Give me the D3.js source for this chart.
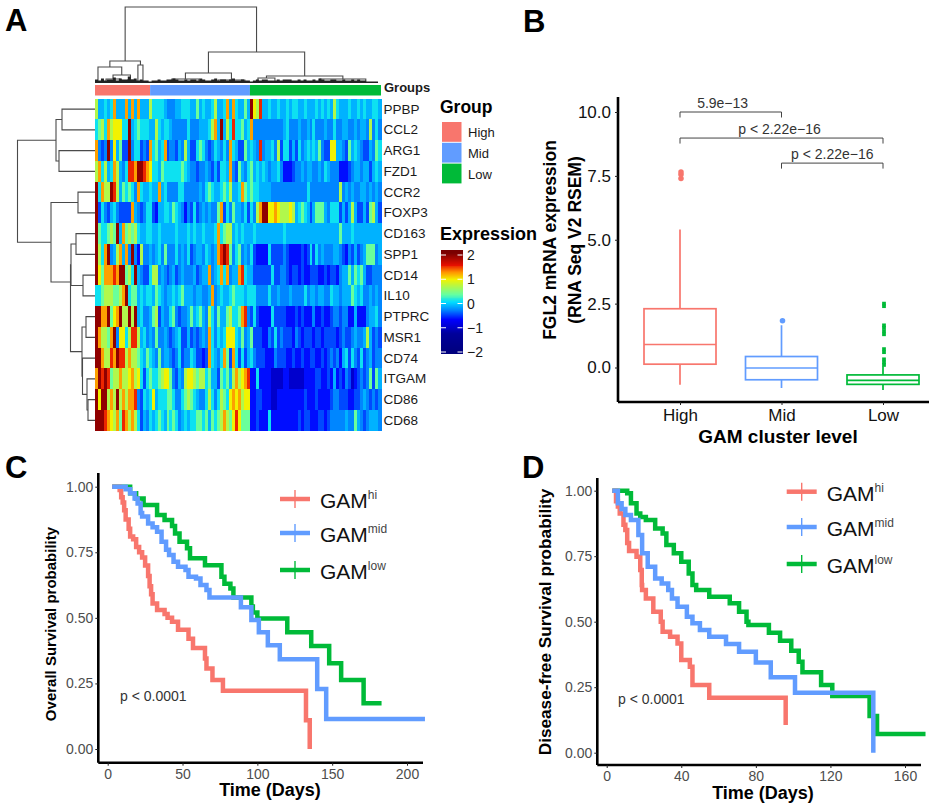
<!DOCTYPE html>
<html><head><meta charset="utf-8">
<style>
html,body{margin:0;padding:0;background:#fff}
svg{display:block;font-family:"Liberation Sans",Arial,sans-serif}
</style>
<script src="https://cdn.jsdelivr.net/npm/d3@7"></script>
</head><body>
<svg id="c" width="950" height="806"></svg>
<script>
// ---------- DATA ----------
const genes = ["PPBP","CCL2","ARG1","FZD1","CCR2","FOXP3","CD163","SPP1","CD14","IL10","PTPRC","MSR1","CD74","ITGAM","CD86","CD68"];
const groupNames = ["High","Mid","Low"];
const groupColumns = [18.5,33.5,44];
const levelCodes = "abcdefghijkl".split("");
const levelValues = [-0.95,-0.62,-0.44,-0.26,-0.1,0.1,0.42,0.72,1.0,1.25,1.55,2.0];
const heatCodes = [
"heefefje eejejeje eehffffe dddeefff eegefeef heefjejf eegelihk eefeefee feffeefe eefefefe hfeeefee fefeeffe",
"fghfjhii ifflefgf ffeehfef fedddddf dddeeefh jelehfkf fgefjddd ddddddde fdddedde dfdddedd fddeedde deedhdfd",
"jdcdldie gccldffc dcjfgefj cddcedhe ccfgfdcd fedfdjfe ccgefedk deefdhcf fcecfdef efegdcci ieedcgef edccedgf",
"hjfhefjh edfkkjll kjiffegf fffffgfe ddcddedc ecffejdc gedfgefe fedeefdb bbcddede eddedfed ddbbbcde edeecefe",
"lfjhhlkh egfgfdjf eefeejef ddddffdd dddedfgf eefgfhee fjgfgffe eeeddddd dddddddf dddddddd ddhdeded deededed",
"lcfdcefd ccccjedc dffcbeef fegfedbd cfcdeded dgjcfdge edfcfdhj lliijihh hihefgfe cegggedf ffcecehe ccecghec",
"lgffghgl ejghghfe effeefee eeefeeef efeefeee fjfghhef efeeefee eeeeeeef eeeeeeee eeeeeeee eegeeefe eeeeeeee",
"lhfjldeh jejdldbh ddedefdg dddfdedf cdeedfed ejklkgdf gdedfcbb bbfccccd cbbbbcbc fcfdeddd eedcbdce cdegggde",
"ligjjjkj llghfled ccfhhded cdecdedd decdeejd efjfjdee jkfeeccc cccfccdd cbccbcbb cccbbcbc cbdeegeg fgeccddd",
"ffghhhgg hjlfggef effegfed eefefgee edeeddej defeefgf ffefffdd ddfddedd deddddfd eedeeddf eedeeegf efddeded",
"lljjlgij lhhlhlef ddeghced dfgdcdde gefgedhf dgeeghff gjkdcfcb bbbfcccc bbbcbcbb bdbbcbbc ddcddbbe bbbdeefd",
"ljhhgjld iifhkkhe fdedgdde dcdefcce cdcdedjf dfefiiif egdegccc bbdcfcdc ccbdcbcc cbccbccc cbcdccde ddehecdc",
"lljhhkjl kkhjhhgf egfedgde edcdfcdd feccbcjf edfjgcjf cfcefdcc cbbbdccc bbcbbcbb ccbbcbcd cdbefcfd cfcdecdd",
"jlklkghh jhhijhif cfgffghi igdcedhi ihghhfge ecgfgehj hijkbbfb bbbaaaab baaaaabb bbccbbcb ebcbdcab cdcdgcge",
"lillhjhl hjhjjkdc fefiefff ggfddfgh gfeddfhf dfhgfiji jhiibbcc bbbaabbb bbbbbbcb bbcbbbbc ddcccbbc cdedcdcd",
"lllkjihj gkjhjhfc edfefgfe gfgfdefe ffggfgeg fghjhgik igggbbcb bbfbbbbb bbbbcbcc bbbccbcd ddddeddg edcdeeed"
];
// row dendrogram: [height, childA, childB, optional position override]
const rowTree = [77.5,
  [39,[33,"PPBP","CCL2"],[36,"ARG1","FZD1"]],
  [44,[17,"CCR2","FOXP3"],
    [24.5,[24,[19,"CD163","SPP1"],[12,"CD14","IL10"]],
      [13,[9,"PTPRC","MSR1"],[12.5,"CD74",[8,"ITGAM",[7,"CD86","CD68"]]]],282]]];
// column dendrogram: leaves are column positions
const colTree = [75,
  [21,[15,1,[7,[3,3.7,8.4],[2,11,12.8]]],[17,14.4,16.1]],
  [30,[9,[3,25.8,34.9],[2,41.3,50.3]],[6,[4,54.7,60.4],[3,75.5,90.9]]]];
const colFuzz = [2,1,3,1,2,2,4,1,3,2,2,5,2,3,1,2,1,1,0,1,1,2,1,1,2,2,3,2,1,1,2,1,2,2,1,3,2,1,1,2,3,1,2,2,1,2,3,1,1,2,1,1,0,1,2,1,2,2,1,1,1,2,1,2,2,2,1,1,2,1,2,1,1,2,1,3,2,1,1,2,2,1,1,2,1,1,2,1,2,1,1,0,0,0,0,0];

const boxGroups = ["High","Mid","Low"];
const boxLow = [-0.68,-0.8,-0.88];
const boxQ1 = [0.13,-0.48,-0.66];
const boxMedian = [0.9,-0.02,-0.5];
const boxQ3 = [2.3,0.43,-0.29];
const boxHigh = [5.4,1.65,0.05];
const boxOutliers = [[7.4,7.55,7.65],[1.83],[2.5,2.4,1.65,1.55,1.42,1.3,0.72,0.6,0.32,0.2,0.1]];
const brackets = [["High","Mid",10.0,"5.9e\u221213",0.42],["High","Low",9.0,"p < 2.22e\u221216",0.49],["Mid","Low",8.0,"p < 2.22e\u221216",0.5]];

const osHi = [[3,1],[8,.987],[9,.96],[10,.94],[11,.91],[12,.875],[14,.84],[15,.81],[17,.8],[19,.77],[21,.75],[23,.73],[25,.70],[27,.66],[28,.62],[29,.59],[30,.555],[33,.53],[38,.515],[40,.5],[43,.485],[47,.455],[54,.42],[57,.385],[65,.345],[66,.307],[70,.263],[77,.222],[132.5,.11],[135,0],[135,0]];
const osMid = [[3,1],[12,.99],[15,.975],[18,.955],[20,.936],[22,.9],[23,.886],[27,.86],[30,.845],[33,.828],[36,.79],[39,.76],[41,.74],[44,.714],[47,.695],[52,.682],[54,.657],[59,.65],[62,.625],[66,.606],[68,.578],[89,.54],[96,.492],[101,.445],[107,.396],[115,.342],[140,.229],[146,.114],[212,.114]];
const osLow = [[3,1],[15,.975],[19,.955],[24,.93],[33,.892],[38,.873],[43,.85],[45,.822],[48,.79],[53,.765],[55,.727],[65,.701],[76,.657],[78,.63],[82,.612],[84,.578],[96,.543],[97,.52],[100,.498],[120,.445],[136,.393],[148,.327],[156,.263],[171,.174],[183,.174]];
const dfsHi = [[3,1],[5,.96],[6,.94],[7,.913],[9,.87],[10,.85],[11,.8],[12,.77],[16,.748],[18,.697],[18.8,.64],[19,.621],[21,.589],[25,.538],[29,.5],[30,.462],[34,.443],[38,.417],[40,.354],[44.6,.328],[46,.258],[55,.21],[96,.106],[96,.106]];
const dfsMid = [[3,1],[6,.952],[8,.93],[10,.907],[13,.888],[17,.831],[19,.761],[22,.71],[26,.665],[29.5,.646],[33,.621],[35,.589],[38,.557],[43,.519],[46,.494],[50,.468],[55,.443],[64,.415],[71,.385],[80,.344],[88,.288],[101,.229],[143,0],[143,0]];
const dfsLow = [[3,1],[11,.99],[13,.952],[16,.913],[18,.9],[21,.888],[26,.856],[30,.837],[32,.793],[36,.761],[40,.729],[44,.684],[46,.64],[48,.621],[55,.595],[66,.57],[71,.538],[75,.5],[76,.487],[87,.458],[93,.427],[99,.389],[103,.347],[105,.307],[115,.258],[121,.216],[141,.14],[145,.071],[171,.071]];
const survTicks = [0,0.25,0.5,0.75,1];
const osDayTicks = [0,50,100,150,200];
const dfsDayTicks = [0,40,80,120,160];
const kmLabels = [["GAM","hi"],["GAM","mid"],["GAM","low"]];

const colorHigh = "#F8766D", colorMid = "#619CFF", colorLow = "#00BA38";
const groupColors = [colorHigh,colorMid,colorLow];

// ---------- SETUP ----------
const svg = d3.select("#c");
const blur = svg.append("defs").append("filter").attr("id","soft")
  .attr("x","0").attr("y","0").attr("width","1").attr("height","1");
blur.append("feGaussianBlur").attr("stdDeviation","0.75 0.35");
function label(x,y,t,size,o={}){
  return svg.append("text").attr("x",x).attr("y",y).text(t).attr("font-size",size)
    .attr("font-weight",o.bold?"bold":null).attr("fill",o.fill||"#000")
    .attr("text-anchor",o.anchor||"start")
    .attr("transform",o.rot?`rotate(${o.rot} ${x} ${y})`:null);
}
label(5,31,"A",31,{bold:1});label(523,32,"B",31,{bold:1});
label(5,478,"C",31,{bold:1});label(522,478,"D",31,{bold:1});

// ---------- A: heatmap ----------
const nCols = 96;
const hx = d3.scaleBand().domain(d3.range(nCols)).range([95,381]);
const hy = d3.scaleBand().domain(genes).range([98.7,430.7]);
const levelOf = d3.scaleOrdinal(levelCodes,levelValues);
const heatColor = d3.scaleLinear()
  .domain([-2.1,-1.25,-0.65,-0.28,0.05,0.4,1.0,1.3,1.6,2.1])
  .range(["#00007a","#00009a","#0000ff","#0080ff","#00dcff","#66ffa0","#f2f200","#ff9000","#e81000","#7a0000"])
  .clamp(true);
const cells = [];
heatCodes.forEach((s,r)=>{ s.replace(/ /g,"").split("").forEach((c,i)=>cells.push({g:genes[r],i,v:levelOf(c)})); });
svg.append("g").attr("filter","url(#soft)").append("g").attr("shape-rendering","crispEdges").selectAll("rect").data(cells).join("rect")
  .attr("x",d=>hx(d.i)).attr("y",d=>hy(d.g)).attr("width",hx.bandwidth()+0.5).attr("height",hy.bandwidth()+0.5)
  .attr("fill",d=>heatColor(d.v));

// group strip
let acc=0;
const colX = d3.scaleLinear().domain([0,nCols]).range([95,381]);
groupNames.forEach((g,i)=>{
  svg.append("rect").attr("x",colX(acc)).attr("y",85).attr("width",colX(groupColumns[i])-95).attr("height",10.5).attr("fill",groupColors[i]);
  acc+=groupColumns[i];
});
label(384,92,"Groups",13,{bold:1,fill:"#1a1a1a"});
svg.append("g").selectAll("text").data(genes).join("text")
  .attr("x",383.5).attr("y",d=>hy(d)+hy.bandwidth()/2+4.5).attr("font-size",13.5).attr("fill","#1a1a1a").text(d=>d);

// dendrograms
const rowH = d3.scaleLinear().domain([0,77.5]).range([95,17.5]);
const colH = d3.scaleLinear().domain([0,75]).range([82,7]);
function drawTree(node,pos,hgt,horizontal,g){
  if(!Array.isArray(node)) return [pos(node),hgt(0)];
  const a=drawTree(node[1],pos,hgt,horizontal,g), b=drawTree(node[2],pos,hgt,horizontal,g);
  const h=hgt(node[0]);
  const p=horizontal?`M${a[1]},${a[0]}H${h}V${b[0]}H${b[1]}`:`M${a[0]},${a[1]}V${h}H${b[0]}V${b[1]}`;
  g.append("path").attr("d",p).attr("fill","none").attr("stroke","#4a4a4a").attr("stroke-width",1.1);
  return [node[3]!==undefined?node[3]:(a[0]+b[0])/2,h];
}
const rowPos = d=>hy(d)+hy.bandwidth()/2;
drawTree(rowTree,rowPos,rowH,true,svg.append("g"));
const gCol=svg.append("g");
drawTree(colTree,d=>colX(d),colH,false,gCol);
svg.append("path").attr("fill","#222")
  .attr("d",d3.area().x(d=>colX(d[0])).y0(83).y1(d=>colH(d[1])-0.5).curve(d3.curveStepAfter)(colFuzz.map((v,i)=>[i,v])));

// legends
label(440,113,"Group",17.5,{bold:1});
svg.append("g").selectAll("rect").data(groupNames).join("rect")
  .attr("x",442).attr("y",(d,i)=>122+i*20.8).attr("width",19.5).attr("height",19.8).attr("fill",(d,i)=>groupColors[i]);
svg.append("g").selectAll("text").data(groupNames).join("text")
  .attr("x",468).attr("y",(d,i)=>136.5+i*21).attr("font-size",13).attr("fill","#1a1a1a").text(d=>d);
label(440,240,"Expression",18,{bold:1});
const cbY = d3.scaleLinear().domain([-2,2]).range([352,255]);
const cbValues = d3.range(-2.04,2.17,0.04);
svg.append("g").attr("shape-rendering","crispEdges").selectAll("rect").data(cbValues).join("rect")
  .attr("x",441).attr("y",d=>cbY(d)-1).attr("width",21.5).attr("height",1.8).attr("fill",d=>heatColor(d));
[2,1,0,-1,-2].forEach(t=>{
  svg.append("path").attr("d",`M441,${cbY(t)}h5M462.5,${cbY(t)}h-5`).attr("stroke","#fff").attr("stroke-width",1);
  label(467,cbY(t)+5,t<0?"\u2212"+(-t):String(t),14,{fill:"#1a1a1a"});
});

// ---------- B: boxplot ----------
const bx = d3.scalePoint().domain(boxGroups).range([680,883]);
const by = d3.scaleLinear().domain([0,10]).range([367.5,112]);
const bYAxis = svg.append("g").attr("transform","translate(618,0)").call(d3.axisLeft(by).tickValues([0,2.5,5,7.5,10]).tickFormat(d3.format(".1f")).tickSize(3).tickPadding(4));
const bXAxis = svg.append("g").attr("transform","translate(0,402)").call(d3.axisBottom(bx).tickSize(3).tickPadding(4));
function styleAxis(ax,size,col){
  ax.selectAll("text").attr("font-size",size).attr("fill",col).attr("font-family","inherit");
  ax.selectAll(".tick line").attr("stroke","#222").attr("stroke-width",1);
  ax.select(".domain").attr("stroke","#000").attr("stroke-width",2.6);
}
styleAxis(bYAxis,17,"#111");styleAxis(bXAxis,17,"#111");
bYAxis.select(".domain").attr("d","M0,97V402");
bXAxis.select(".domain").attr("d","M618,0H929");
boxGroups.forEach((g,i)=>{
  const gg=svg.append("g").attr("fill","none").attr("stroke",groupColors[i]).attr("stroke-width",1.7);
  const c=bx(g), w=36;
  gg.append("path").attr("d",`M${c},${by(boxLow[i])}V${by(boxQ1[i])}M${c},${by(boxQ3[i])}V${by(boxHigh[i])}`);
  gg.append("rect").attr("x",c-w).attr("width",2*w).attr("y",by(boxQ3[i])).attr("height",by(boxQ1[i])-by(boxQ3[i]));
  gg.append("path").attr("d",`M${c-w},${by(boxMedian[i])}H${c+w}`);
  const sym=d3.symbol().type(i==2?d3.symbolSquare:d3.symbolCircle).size(i==2?14:24);
  svg.append("g").selectAll("path").data(boxOutliers[i]).join("path")
    .attr("d",sym).attr("transform",d=>`translate(${c+1},${by(d)})`).attr("fill",groupColors[i]);
});
brackets.forEach(([a,b,v,t,f])=>{
  const x1=bx(a),x2=bx(b),y=by(v)+ (v===10?0:(v===9?0.5:0));
  svg.append("path").attr("d",`M${x1},${y+5.5}V${y}H${x2}V${y+5.5}`).attr("fill","none").attr("stroke","#444").attr("stroke-width",1);
  label(x1+(x2-x1)*f,y-4,t,14,{anchor:"middle",fill:"#333"});
});
label(778,443,"GAM cluster level",19,{bold:1,anchor:"middle"});
label(556,240,"FGL2 mRNA expression",17.5,{bold:1,anchor:"middle",rot:-90});
label(581,240,"(RNA Seq V2 RSEM)",17.5,{bold:1,anchor:"middle",rot:-90});

// ---------- C / D: survival ----------
function kmPanel(cfg){
  const x=d3.scaleLinear().domain(cfg.xDom).range(cfg.xRange);
  const y=d3.scaleLinear().domain([0,1]).range(cfg.yRange);
  const xa=svg.append("g").attr("transform",`translate(0,${cfg.axisY})`).call(d3.axisBottom(x).tickValues(cfg.xTicks).tickSize(3).tickPadding(3));
  const ya=svg.append("g").attr("transform",`translate(${cfg.axisX},0)`).call(d3.axisLeft(y).tickValues(survTicks).tickFormat(d3.format(".2f")).tickSize(3).tickPadding(2));
  styleAxis(xa,14,"#4d4d4d");styleAxis(ya,14,"#4d4d4d");
  xa.select(".domain").attr("d",`M${cfg.axisX},0H${cfg.axisEnd}`);
  ya.select(".domain").attr("d",`M0,${cfg.axisTop}V${cfg.axisY}`);
  const line=d3.line().x(d=>x(d[0])).y(d=>y(d[1])).curve(d3.curveStepAfter);
  [[cfg.low,colorLow],[cfg.hi,colorHigh],[cfg.mid,colorMid]].forEach(([d,c])=>{
    svg.append("path").datum(d).attr("d",line).attr("fill","none").attr("stroke",c).attr("stroke-width",4.5);
  });
  kmLabels.forEach((l,i)=>{
    const ly=cfg.legY[i], c=groupColors[i], lx=cfg.legX;
    svg.append("path").attr("d",`M${lx},${ly}h30`).attr("stroke",c).attr("stroke-width",4.5).attr("fill","none");
    svg.append("path").attr("d",`M${lx+15},${ly-9}v18`).attr("stroke",c).attr("stroke-width",1.4);
    const t=label(lx+40,ly+9,l[0],21,{fill:"#111"});
    t.append("tspan").text(l[1]).attr("font-size",12).attr("dy",-9).attr("fill","#444");
  });
  label(cfg.pX,cfg.pY,"p < 0.0001",14,{fill:"#333"});
  label(cfg.titleX,cfg.titleY,"Time (Days)",18,{bold:1,anchor:"middle"});
  label(cfg.yTitleX,cfg.yTitleY,cfg.yTitle,cfg.yTitleSize,{bold:1,anchor:"middle",rot:-90});
}
kmPanel({hi:osHi,mid:osMid,low:osLow,xDom:[0,200],xRange:[107.7,407],yRange:[749,486.7],
  axisX:98.3,axisY:762.7,axisEnd:423,axisTop:473,xTicks:osDayTicks,legX:280,legY:[499,533,570],
  pX:120,pY:701,titleX:270,titleY:796,yTitle:"Overall Survival probability",yTitleX:56,yTitleY:624,yTitleSize:15});
kmPanel({hi:dfsHi,mid:dfsMid,low:dfsLow,xDom:[0,160],xRange:[606.7,905],yRange:[752.7,490.7],
  axisX:597.3,axisY:765,axisEnd:921,axisTop:478,xTicks:dfsDayTicks,legX:786.7,legY:[491.7,527,564],
  pX:618,pY:704,titleX:763,titleY:799,yTitle:"Disease-free Survival probability",yTitleX:551,yTitleY:622,yTitleSize:17.2});
</script>
</body></html>
